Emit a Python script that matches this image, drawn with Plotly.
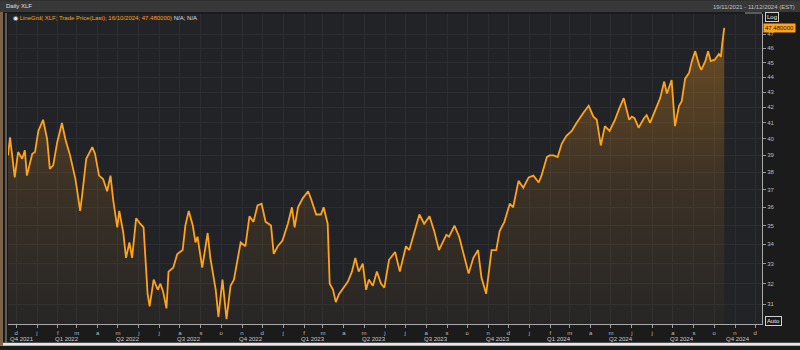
import numpy as np
import pandas as pd
import plotly.graph_objects as go

# ---------------- data ----------------
start_date = "2021-11-19"
end_date = "2024-12-11"

# trading-day readings: days after 19/11/2021 and XLF last price
day_offsets = [
    0, 3, 10, 15, 21, 25, 28, 36, 40, 45, 52, 58, 62, 67, 73, 80, 85, 92, 100, 104,
    107, 110, 116, 125, 129, 135, 141, 147, 152, 156, 162, 165, 171, 175, 180, 184, 190, 196, 201, 207,
    210, 216, 222, 226, 230, 235, 238, 245, 251, 259, 263, 268, 274, 278, 281, 288, 296, 300, 308, 312,
    318, 324, 330, 335, 341, 345, 352, 358, 364, 370, 376, 382, 390, 394, 400, 407, 415, 421, 425, 430,
    437, 445, 449, 457, 464, 468, 474, 477, 482, 486, 491, 497, 504, 510, 515, 520, 526, 531, 535, 541,
    547, 553, 558, 565, 574, 581, 590, 595, 601, 610, 617, 625, 632, 639, 650, 654, 662, 669, 677, 683,
    690, 697, 702, 709, 717, 724, 729, 736, 744, 749, 757, 764, 772, 779, 787, 791, 799, 803, 809, 815,
    821, 828, 836, 843, 854, 861, 868, 873, 879, 885, 892, 900, 907, 913, 921, 925, 929, 935, 943, 947,
    952, 959, 967, 973, 977, 984, 989, 995, 999, 1004, 1010, 1014, 1019, 1025, 1028, 1034, 1038, 1042, 1048, 1054,
    1057, 1059, 1062,
]
prices = [
    39.0, 40.1, 37.7, 39.2, 38.8, 39.3, 37.8, 39.1, 39.2, 40.5, 41.2, 40.0, 38.2, 38.4, 39.8, 41.0, 40.0, 39.0, 37.6, 36.7,
    35.8, 36.7, 38.8, 39.5, 39.1, 37.8, 37.6, 36.9, 37.8, 36.4, 34.9, 35.8, 34.6, 33.3, 34.1, 33.3, 35.4, 35.1, 34.9, 31.5,
    30.9, 32.2, 31.7, 32.0, 31.6, 30.8, 32.6, 32.8, 33.5, 33.7, 35.0, 35.8, 35.0, 34.1, 34.4, 32.8, 34.6, 33.3, 31.7, 30.4,
    32.2, 30.3, 31.9, 32.2, 33.3, 34.1, 33.9, 35.5, 35.2, 36.1, 36.2, 35.2, 35.0, 33.5, 33.9, 34.2, 35.1, 36.0, 34.9, 36.0,
    36.5, 36.9, 36.5, 35.6, 35.6, 36.0, 35.1, 32.0, 31.7, 31.1, 31.5, 31.8, 32.1, 32.6, 33.3, 32.6, 33.0, 31.7, 32.2, 31.9,
    32.6, 32.0, 31.8, 33.2, 33.6, 32.6, 33.9, 33.7, 34.4, 35.6, 35.1, 35.5, 34.7, 33.7, 34.5, 34.4, 35.0, 34.4, 33.3, 32.5,
    33.3, 33.7, 32.3, 31.5, 33.7, 33.7, 34.7, 35.2, 36.2, 36.0, 37.5, 37.1, 37.7, 37.8, 37.4, 37.8, 38.9, 39.0, 39.0, 38.9,
    39.7, 40.2, 40.5, 41.0, 41.7, 42.1, 41.4, 41.2, 39.6, 40.8, 40.5, 41.2, 42.0, 42.6, 41.2, 41.4, 41.3, 40.7, 41.3, 41.5,
    41.0, 41.7, 42.6, 43.7, 42.9, 43.8, 40.8, 42.1, 42.4, 43.9, 44.3, 45.1, 45.8, 44.8, 44.5, 45.1, 45.8, 45.1, 45.2, 45.6,
    45.4, 46.3, 47.48,
]

y_ticks = [31, 32, 33, 34, 35, 36, 37, 38, 39, 40, 41, 42, 43, 44, 45, 46, 47]

quarter_labels = ["Q4 2021", "Q1 2022", "Q2 2022", "Q3 2022", "Q4 2022", "Q1 2023", "Q2 2023",
                  "Q3 2023", "Q4 2023", "Q1 2024", "Q2 2024", "Q3 2024", "Q4 2024"]
quarter_label_dates = ["2021-12-10", "2022-02-14", "2022-05-16", "2022-08-15", "2022-11-15", "2023-02-14",
                       "2023-05-16", "2023-08-15", "2023-11-15", "2024-02-14", "2024-05-16", "2024-08-15",
                       "2024-11-05"]
quarter_starts = ["2022-01-01", "2022-04-01", "2022-07-01", "2022-10-01", "2023-01-01", "2023-04-01",
                  "2023-07-01", "2023-10-01", "2024-01-01", "2024-04-01", "2024-07-01", "2024-10-01"]

month_starts = pd.date_range("2021-12-01", "2024-12-01", freq="MS")
month_letters = [d.strftime("%b")[0].lower() for d in month_starts]

dates = pd.Timestamp(start_date) + pd.to_timedelta(day_offsets, unit="D")

# ---------------- style ----------------
FONT = "Liberation Sans, Arial, sans-serif"
ORANGE = "#ffa31a"
W, H = 800, 350
ML, MR, MT, MB = 8, 38, 14, 22
pw, ph = W - ML - MR, H - MT - MB


def px_x(px):
    return (px - ML) / pw


def px_y(py):
    return (H - MB - py) / ph


y_bottom, y_top = 30.07, 48.5

fig = go.Figure()
fig.add_trace(go.Scatter(
    x=dates, y=prices, mode="lines",
    line=dict(color=ORANGE, width=1.8),
    fill="tozeroy",
    fillgradient=dict(type="vertical", start=y_bottom, stop=max(prices),
                      colorscale=[[0, "rgba(255,160,30,0.02)"], [0.5, "rgba(255,160,30,0.12)"],
                                  [1, "rgba(255,160,30,0.34)"]]),
    hoverinfo="skip", showlegend=False,
))
# empty trace so the quarter-separator axis is drawn
fig.add_trace(go.Scatter(x=[], y=[], xaxis="x2", showlegend=False, hoverinfo="skip"))

x_range = [start_date, end_date]

fig.update_layout(
    width=W, height=H,
    margin=dict(l=ML, r=MR, t=MT, b=MB),
    paper_bgcolor="#1b1b1c",
    plot_bgcolor="#222326",
    font=dict(family=FONT, color="#c8c8c8", size=6),
    xaxis=dict(
        range=x_range, tickmode="array", tickvals=month_starts, ticktext=month_letters,
        ticks="outside", ticklen=3, tickcolor="#9a9a9a", tickfont=dict(size=6, color="#bdbdbd"),
        showgrid=True, gridcolor="#2c2d31", gridwidth=1,
        showline=True, linecolor="#a8a8a8", linewidth=1, zeroline=False,
    ),
    xaxis2=dict(
        range=x_range, overlaying="x", anchor="y", side="bottom",
        tickmode="array", tickvals=quarter_starts, ticks="outside", ticklen=18,
        tickcolor="#8a8a8a", showticklabels=False, showgrid=False, showline=False, zeroline=False,
    ),
    yaxis=dict(
        type="log", range=[np.log10(y_bottom), np.log10(y_top)], side="right",
        tickmode="array", tickvals=y_ticks, ticktext=[str(v) for v in y_ticks],
        ticks="outside", ticklen=3, tickcolor="#9a9a9a", tickfont=dict(size=6, color="#bdbdbd"),
        showgrid=True, gridcolor="#2c2d31", gridwidth=1,
        showline=True, linecolor="#a8a8a8", linewidth=1, zeroline=False,
    ),
    showlegend=False,
)

shapes = [
    # top title bar
    dict(type="rect", xref="paper", yref="paper", x0=px_x(0), x1=px_x(800), y0=px_y(12), y1=px_y(0),
         fillcolor="#383839", line=dict(width=0), layer="below"),
    # bottom light strip
    dict(type="rect", xref="paper", yref="paper", x0=px_x(0), x1=px_x(800), y0=px_y(350), y1=px_y(347),
         fillcolor="#e6e6e6", line=dict(width=0)),
    # left brown edge
    dict(type="rect", xref="paper", yref="paper", x0=px_x(0), x1=px_x(3), y0=px_y(350), y1=px_y(12),
         fillcolor="#7b6248", line=dict(width=0)),
    # left frame line
    dict(type="line", xref="paper", yref="paper", x0=px_x(6), x1=px_x(6), y0=px_y(347), y1=px_y(13),
         line=dict(color="#9c9c9c", width=1)),
    # bracket to Log box
    dict(type="line", xref="paper", yref="paper", x0=px_x(745), x1=px_x(762), y0=px_y(13), y1=px_y(13),
         line=dict(color="#9c9c9c", width=1)),
]
fig.update_layout(shapes=shapes)

annotations = [
    dict(xref="paper", yref="paper", x=px_x(4), y=px_y(6), xanchor="left", yanchor="middle",
         text="Daily XLF", showarrow=False, font=dict(size=6, color="#e0e0e0")),
    dict(xref="paper", yref="paper", x=px_x(797), y=px_y(7), xanchor="right", yanchor="middle",
         text="19/11/2021 - 11/12/2024 (EST)", showarrow=False, font=dict(size=6, color="#c0c0c0")),
    dict(xref="paper", yref="paper", x=px_x(11), y=px_y(18), xanchor="left", yanchor="middle",
         text="<span style='color:#ffffff'>◉</span> <span style='color:%s'>LineGrd( XLF; Trade Price(Last); 16/10/2024; 47.480000)</span> <span style='color:#e0e0e0'>N/A; N/A</span>" % ORANGE,
         showarrow=False, font=dict(size=6)),
    dict(xref="paper", yref="paper", x=px_x(765), y=px_y(17), xanchor="left", yanchor="middle",
         text="Log", showarrow=False, font=dict(size=6, color="#e8e8e8"),
         bgcolor="#1b1b1c", bordercolor="#cfcfcf", borderwidth=1, borderpad=1),
    dict(xref="paper", yref="y", x=px_x(763), y=np.log10(prices[-1]), xanchor="left", yanchor="middle",
         text="%.6f" % prices[-1], showarrow=False, font=dict(size=6, color="#1a1a1a"),
         bgcolor=ORANGE, borderpad=1),
    dict(xref="paper", yref="paper", x=px_x(765), y=px_y(325), xanchor="left", yanchor="middle",
         text="Auto", showarrow=False, font=dict(size=6, color="#e8e8e8"),
         bgcolor="#1b1b1c", bordercolor="#cfcfcf", borderwidth=1, borderpad=1),
]
for lab, d in zip(quarter_labels, quarter_label_dates):
    annotations.append(dict(xref="x", yref="paper", x=d, y=px_y(343), xanchor="center", yanchor="middle",
                            text=lab, showarrow=False, font=dict(size=6, color="#c8c8c8")))
fig.update_layout(annotations=annotations)

fig.write_html("out.html")
